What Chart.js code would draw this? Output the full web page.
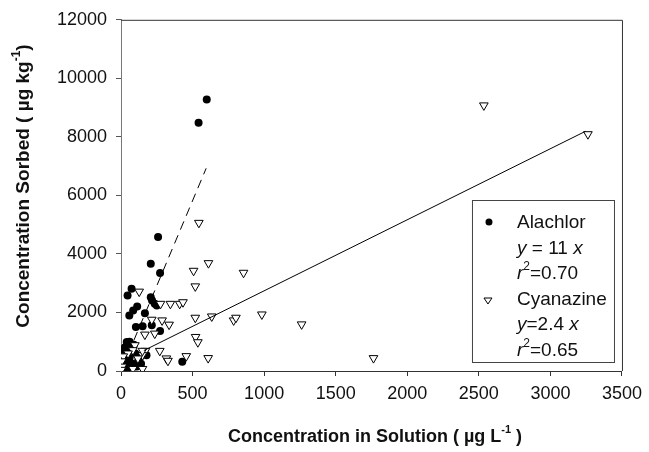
<!DOCTYPE html>
<html>
<head>
<meta charset="utf-8">
<script src="https://cdn.jsdelivr.net/npm/chart.js@4.4.1/dist/chart.umd.min.js"></script>
<style>
  html, body { margin: 0; padding: 0; background: #fff; }
  #wrap { width: 649px; height: 452px; }
</style>
</head>
<body>
<div id="wrap"><canvas id="chart" width="649" height="452"></canvas></div>
<script>
// Alachlor (solution, sorbed) pairs
const alachlorX = [599, 542, 259, 208, 273, 74, 46, 208, 217, 236, 250, 113, 85, 58, 167, 104, 151, 215, 273, 428, 178, 40, 74,
  10, 20, 30, 50, 60, 80, 100, 120, 15, 40, 130, 90, 25, 5, 35, 65, 110, 140, 60, 20];
const alachlorY = [9280, 8485, 4577, 3661, 3346, 2814, 2576, 2519, 2407, 2300, 2240, 2203, 2068, 1898, 1977, 1503, 1526, 1560, 1367, 316, 542, 994, 881,
  150, 300, 550, 700, 450, 250, 600, 350, 50, 150, 450, 900, 800, 400, 350, 50, 150, 250, 1000, 650];

// Cyanazine (solution, sorbed) pairs
const cyanazineX = [544, 611, 507, 856, 519, 127, 276, 345, 410, 433, 215, 287, 336, 519, 634, 787, 803, 984, 167, 236, 521, 537,
  271, 317, 328, 456, 609, 171, 1262, 1764, 2535, 3262,
  97, 83, 150, 118, 49, 16, 5, 10, 83, 150, 3, 150];
const cyanazineY = [5062, 3685, 3424, 3356, 2892, 2712, 2295, 2295, 2295, 2350, 1752, 1729, 1583, 1820, 1864, 1729, 1820, 1932, 1244, 1278, 1163, 983,
  688, 430, 349, 508, 441, 688, 1593, 440, 9075, 8092,
  881, 712, 542, 429, 600, 500, 330, 150, 70, 70, 40, 690];

// fitted lines, endpoints as drawn
const alachlorFitX = [90, 595];
const alachlorFitY = [1050, 6925];
const cyanazineFitX = [160, 3245];
const cyanazineFitY = [700, 8190];

const xTicks = [0, 500, 1000, 1500, 2000, 2500, 3000, 3500];
const yTicks = [0, 2000, 4000, 6000, 8000, 10000, 12000];

function pairs(xs, ys) {
    return xs.map((x, i) => ({ x: x, y: ys[i] }));
}

const FONT = "'Liberation Sans', Arial, sans-serif";

// draw a run of text pieces (italic / superscript) starting at x
function drawRich(ctx, pieces, x, y, size, bold) {
    let cx = x;
    for (const p of pieces) {
        const s = p.sup ? Math.round(size * 0.62) : size;
        ctx.font = (p.i ? 'italic ' : '') + (bold ? 'bold ' : '') + s + 'px ' + FONT;
        ctx.fillText(p.t, cx, p.sup ? y - size * 0.38 : y);
        cx += ctx.measureText(p.t).width;
    }
    return cx - x;
}

function richWidth(ctx, pieces, size, bold) {
    let w = 0;
    for (const p of pieces) {
        const s = p.sup ? Math.round(size * 0.62) : size;
        ctx.font = (p.i ? 'italic ' : '') + (bold ? 'bold ' : '') + s + 'px ' + FONT;
        w += ctx.measureText(p.t).width;
    }
    return w;
}

const decorPlugin = {
    id: 'decor',
    afterDraw(chart) {
        const ctx = chart.ctx;
        const a = chart.chartArea;
        ctx.save();
        // top and right frame
        ctx.strokeStyle = '#333';
        ctx.lineWidth = 1;
        ctx.beginPath();
        ctx.moveTo(a.left, a.top + 0.5);
        ctx.lineTo(a.right + 0.5, a.top + 0.5);
        ctx.lineTo(a.right + 0.5, a.bottom);
        ctx.stroke();

        ctx.fillStyle = '#111';
        ctx.textBaseline = 'middle';

        // x title
        const xt = [{ t: 'Concentration in Solution ( \u00b5g L' }, { t: '-1', sup: true }, { t: ' )' }];
        const xw = richWidth(ctx, xt, 18, true);
        drawRich(ctx, xt, 375 - xw / 2, 437, 18, true);

        // y title
        const yt = [{ t: 'Concentration Sorbed ( \u00b5g kg' }, { t: '-1', sup: true }, { t: ')' }];
        const yw = richWidth(ctx, yt, 19, true);
        ctx.save();
        ctx.translate(24, 186);
        ctx.rotate(-Math.PI / 2);
        drawRich(ctx, yt, -yw / 2, 0, 19, true);
        ctx.restore();

        // legend box
        const lx = a.right - 150, ly = a.bottom - 171, lw = 142, lh = 162;
        ctx.fillStyle = '#fff';
        ctx.fillRect(lx, ly, lw, lh);
        ctx.strokeStyle = '#444';
        ctx.strokeRect(lx + 0.5, ly + 0.5, lw, lh);

        ctx.fillStyle = '#000';
        ctx.beginPath();
        ctx.arc(lx + 17, ly + 22, 3.5, 0, Math.PI * 2);
        ctx.fill();

        ctx.beginPath();
        ctx.moveTo(lx + 12, ly + 98);
        ctx.lineTo(lx + 20, ly + 98);
        ctx.lineTo(lx + 16, ly + 104);
        ctx.closePath();
        ctx.fillStyle = '#fff';
        ctx.fill();
        ctx.strokeStyle = '#000';
        ctx.stroke();

        ctx.fillStyle = '#111';
        const tx = lx + 45;
        const rows = [
            [{ t: 'Alachlor' }],
            [{ t: 'y', i: true }, { t: ' = 11 ' }, { t: 'x', i: true }],
            [{ t: 'r', i: true }, { t: '2', sup: true }, { t: '=0.70' }],
            [{ t: 'Cyanazine' }],
            [{ t: 'y', i: true }, { t: '=2.4 ' }, { t: 'x', i: true }],
            [{ t: 'r', i: true }, { t: '2', sup: true }, { t: '=0.65' }]
        ];
        rows.forEach((r, i) => drawRich(ctx, r, tx, ly + 23 + i * 25.5, 19, false));
        ctx.restore();
    }
};

new Chart(document.getElementById('chart').getContext('2d'), {
    type: 'scatter',
    data: {
        datasets: [
            {
                label: 'Alachlor fit',
                type: 'line',
                data: pairs(alachlorFitX, alachlorFitY),
                borderColor: '#000',
                borderWidth: 1,
                borderDash: [9, 6],
                pointRadius: 0,
                fill: false
            },
            {
                label: 'Cyanazine fit',
                type: 'line',
                data: pairs(cyanazineFitX, cyanazineFitY),
                borderColor: '#000',
                borderWidth: 1,
                pointRadius: 0,
                fill: false
            },
            {
                label: 'Cyanazine',
                data: pairs(cyanazineX, cyanazineY),
                pointStyle: 'triangle',
                rotation: 180,
                pointRadius: 5,
                backgroundColor: '#fff',
                borderColor: '#000',
                borderWidth: 1
            },
            {
                label: 'Alachlor',
                data: pairs(alachlorX, alachlorY),
                pointStyle: 'circle',
                pointRadius: 4,
                backgroundColor: '#000',
                borderColor: '#000',
                borderWidth: 0
            }
        ]
    },
    options: {
        responsive: false,
        animation: false,
        layout: { padding: { top: 17, right: 22, left: 0, bottom: 0 } },
        plugins: {
            legend: { display: false },
            tooltip: { enabled: false }
        },
        scales: {
            x: {
                type: 'linear',
                min: 0,
                max: 3500,
                afterFit(scale) { scale.height = 81; },
                afterBuildTicks(scale) { scale.ticks = xTicks.map(v => ({ value: v })); },
                ticks: { color: '#111', padding: 7, font: { family: FONT, size: 18 }, callback: v => String(v) },
                grid: { drawOnChartArea: false, tickLength: 5, color: '#333' },
                border: { color: '#333', width: 1 }
            },
            y: {
                type: 'linear',
                min: 0,
                max: 12000,
                afterFit(scale) { scale.width = 121; },
                afterBuildTicks(scale) { scale.ticks = yTicks.map(v => ({ value: v })); },
                ticks: { color: '#111', padding: 9, font: { family: FONT, size: 18 }, callback: v => String(v) },
                grid: { drawOnChartArea: false, tickLength: 5, color: '#555' },
                border: { color: '#777', width: 1 }
            }
        }
    },
    plugins: [decorPlugin]
});
</script>
</body>
</html>
